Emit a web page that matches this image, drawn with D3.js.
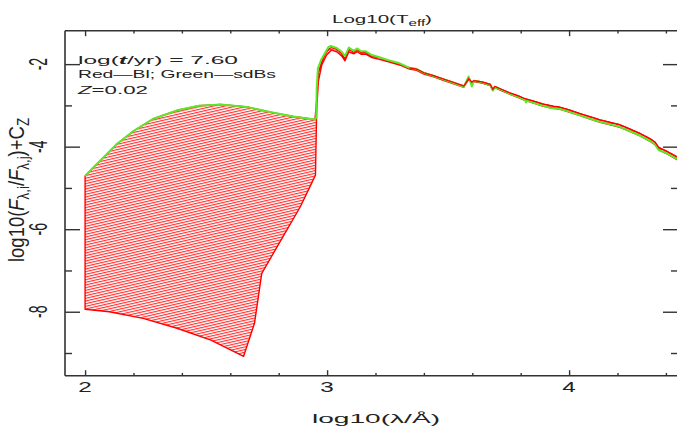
<!DOCTYPE html>
<html><head><meta charset="utf-8">
<script src="https://cdn.jsdelivr.net/npm/d3@7"></script>
<style>body{margin:0;background:#fff}svg{display:block}text{font-family:"Liberation Sans",Arial,sans-serif;fill:#222}</style>
</head><body><svg id="c" width="677" height="427"></svg>
<script>
// ---- data ----
const blMaxX = [2.00,2.04,2.08,2.13,2.20,2.28,2.38,2.47,2.56,2.67,2.78,2.86,2.95,2.958,2.964,2.978,2.995,3.01,3.02,3.04,3.06,3.074,3.09,3.11,3.125,3.14,3.16,3.185,3.22,3.25,3.30,3.34,3.37,3.40,3.44,3.48,3.52,3.565,3.585,3.598,3.607,3.64,3.674,3.685,3.693,3.72,3.756,3.79,3.818,3.85,3.894,3.935,3.96,4.00,4.045,4.09,4.128,4.17,4.21,4.25,4.293,4.335,4.355,4.37,4.40,4.45];
const blMaxY = [-4.71,-4.47,-4.24,-3.94,-3.62,-3.33,-3.12,-3.01,-2.98,-3.04,-3.18,-3.27,-3.34,-2.80,-2.20,-1.94,-1.72,-1.62,-1.60,-1.64,-1.74,-1.88,-1.64,-1.71,-1.65,-1.72,-1.72,-1.80,-1.85,-1.91,-1.99,-2.09,-2.12,-2.21,-2.28,-2.36,-2.44,-2.53,-2.35,-2.44,-2.40,-2.43,-2.49,-2.61,-2.54,-2.61,-2.70,-2.77,-2.84,-2.89,-2.97,-3.02,-3.04,-3.11,-3.20,-3.28,-3.35,-3.41,-3.47,-3.57,-3.68,-3.81,-3.89,-4.02,-4.10,-4.26];
const blMinX = [2.00,2.10,2.24,2.38,2.52,2.655,2.70,2.73,2.81,2.89,2.952,2.956,2.958,2.964,2.978,2.998,3.019,3.04,3.06,3.074,3.09,3.11,3.125,3.14,3.16,3.185,3.22,3.25,3.30,3.34,3.37,3.40,3.44,3.48,3.52,3.565,3.585,3.598,3.607,3.64,3.674,3.685,3.693,3.72,3.756,3.79,3.818,3.85,3.894,3.935,3.96,4.00,4.045,4.09,4.128,4.17,4.21,4.25,4.293,4.335,4.355,4.37,4.40,4.45];
const blMinY = [-7.94,-8.00,-8.16,-8.40,-8.69,-9.08,-8.28,-7.07,-6.26,-5.45,-4.69,-3.40,-2.99,-2.42,-2.02,-1.78,-1.66,-1.70,-1.80,-1.92,-1.70,-1.75,-1.70,-1.76,-1.76,-1.84,-1.89,-1.94,-2.02,-2.12,-2.15,-2.24,-2.31,-2.39,-2.47,-2.56,-2.37,-2.46,-2.42,-2.46,-2.52,-2.64,-2.57,-2.64,-2.73,-2.81,-2.88,-2.94,-3.02,-3.07,-3.09,-3.16,-3.25,-3.34,-3.41,-3.47,-3.53,-3.63,-3.74,-3.87,-3.95,-4.08,-4.16,-4.33];
const sdbsX = [2.00,2.04,2.08,2.13,2.20,2.28,2.38,2.47,2.56,2.67,2.78,2.86,2.95,2.955,2.957,2.962,2.975,2.99,3.005,3.015,3.04,3.06,3.074,3.09,3.11,3.125,3.14,3.16,3.185,3.22,3.25,3.30,3.34,3.37,3.40,3.44,3.48,3.52,3.565,3.585,3.598,3.607,3.64,3.674,3.685,3.693,3.72,3.756,3.79,3.818,3.822,3.826,3.85,3.894,3.92,3.935,3.96,4.00,4.045,4.09,4.128,4.17,4.21,4.25,4.293,4.335,4.355,4.37,4.40,4.45];
const sdbsY = [-4.71,-4.47,-4.24,-3.94,-3.62,-3.33,-3.12,-3.01,-2.98,-3.04,-3.18,-3.27,-3.34,-3.30,-2.60,-2.10,-1.90,-1.74,-1.59,-1.56,-1.61,-1.70,-1.80,-1.60,-1.68,-1.62,-1.69,-1.69,-1.78,-1.84,-1.90,-1.98,-2.09,-2.12,-2.21,-2.29,-2.37,-2.45,-2.55,-2.30,-2.54,-2.40,-2.44,-2.51,-2.64,-2.56,-2.62,-2.72,-2.80,-2.87,-2.93,-2.88,-2.93,-3.01,-3.06,-3.07,-3.08,-3.15,-3.24,-3.33,-3.40,-3.46,-3.52,-3.62,-3.73,-3.86,-3.94,-4.08,-4.15,-4.31];
const xMajorTicks = [2,3,4];
const xMinorTicks = [2.2,2.4,2.6,2.8,3.2,3.4,3.6,3.8,4.2,4.4];
const yMajorTicks = [-2,-4,-6,-8];
const yMinorTicks = [-3,-5,-7,-9];

// ---- layout ----
const svg = d3.select("#c");
const L=65, R=678, T=30.7, B=375.7;
const x = d3.scaleLinear().domain([1.917,4.45]).range([L,R]);
const y = d3.scaleLinear().domain([-9.55,-1.19]).range([B,T]);

// hatch pattern
const defs = svg.append("defs");
const pat = defs.append("pattern").attr("id","hatch").attr("patternUnits","userSpaceOnUse")
  .attr("width",12).attr("height",2.6).attr("patternTransform","rotate(-13)");
pat.append("line").attr("x1",0).attr("x2",12).attr("y1",0.6).attr("y2",0.6)
  .attr("stroke","#ff1a1a").attr("stroke-width",1.05);

// band polygon
const upperPts = blMaxX.map((v,i)=>[v,blMaxY[i]]);
const lowerPts = blMinX.map((v,i)=>[v,blMinY[i]]).reverse();
const poly = d3.line().x(d=>x(d[0])).y(d=>y(d[1]));
const clip = defs.append("clipPath").attr("id","clip");
clip.append("rect").attr("x",L).attr("y",T).attr("width",R-L).attr("height",B-T);
const g = svg.append("g").attr("clip-path","url(#clip)");
g.append("path").attr("d",poly(upperPts.concat(lowerPts))+"Z").attr("fill","url(#hatch)").attr("stroke","none");
g.append("path").attr("d",poly(upperPts.concat(lowerPts))+"Z").attr("fill","none")
  .attr("stroke","#ff0000").attr("stroke-width",1.4).attr("stroke-linejoin","round");
g.append("path").attr("d",poly(sdbsX.map((v,i)=>[v,sdbsY[i]]))).attr("fill","none")
  .attr("stroke","#5ee82a").attr("stroke-width",2).attr("stroke-linejoin","round");
g.append("path").attr("d",poly(upperPts.filter(d=>d[0]>3.3))).attr("fill","none")
  .attr("stroke","#ff0000").attr("stroke-width",1.2);

// frame
const axc="#333";
svg.append("line").attr("x1",L).attr("x2",L).attr("y1",T).attr("y2",B).attr("stroke",axc).attr("stroke-width",1.6);
svg.append("line").attr("x1",L).attr("x2",R).attr("y1",B).attr("y2",B).attr("stroke",axc).attr("stroke-width",1.6);
svg.append("line").attr("x1",L).attr("x2",R).attr("y1",T).attr("y2",T).attr("stroke",axc).attr("stroke-width",1.6);
svg.append("line").attr("x1",R).attr("x2",R).attr("y1",T).attr("y2",B).attr("stroke",axc).attr("stroke-width",1.6);

function ax(axisFn, scale, vals, size, tr){
  const a = svg.append("g").attr("transform",tr)
    .call(axisFn(scale).tickValues(vals).tickSize(size).tickSizeOuter(0).tickFormat(""));
  a.select(".domain").remove();
  a.selectAll(".tick line").attr("stroke",axc).attr("stroke-width",1.4);
}
ax(d3.axisBottom,x,xMajorTicks,-5.5,`translate(0,${B})`);
ax(d3.axisBottom,x,xMinorTicks,-2.8,`translate(0,${B})`);
ax(d3.axisTop,x,xMajorTicks,-5.5,`translate(0,${T})`);
ax(d3.axisTop,x,xMinorTicks,-2.8,`translate(0,${T})`);
ax(d3.axisLeft,y,yMajorTicks,-15,`translate(${L},0)`);
ax(d3.axisLeft,y,yMinorTicks,-7,`translate(${L},0)`);
ax(d3.axisRight,y,yMajorTicks,-15,`translate(${R},0)`);
ax(d3.axisRight,y,yMinorTicks,-7,`translate(${R},0)`);

// tick labels
xMajorTicks.forEach(v=>{
  svg.append("text").attr("x",x(v)).attr("y",392).attr("text-anchor","middle")
    .attr("font-size",14).attr("textLength",13.5).attr("lengthAdjust","spacingAndGlyphs").text(v);
});
yMajorTicks.forEach(v=>{
  svg.append("text").attr("transform",`translate(47,${y(v)}) scale(1.8,1) rotate(-90)`)
    .attr("text-anchor","middle").attr("font-size",14).text("-"+Math.abs(v));
});

// titles
const title = svg.append("text").attr("x",332).attr("y",23).attr("font-size",11.5)
  .attr("textLength",100).attr("lengthAdjust","spacingAndGlyphs");
title.append("tspan").text("Log10(T");
title.append("tspan").attr("font-size",8.5).attr("dy",2.5).text("eff");
title.append("tspan").attr("dy",-2.5).text(")");

svg.append("text").attr("x",312).attr("y",423).attr("font-size",13)
  .attr("textLength",128).attr("lengthAdjust","spacingAndGlyphs").text("log10(\u03bb/\u00c5)");

const yl = svg.append("text").attr("transform","translate(24,262) scale(1.8,1) rotate(-90)")
  .attr("font-size",12.5).attr("textLength",144).attr("lengthAdjust","spacingAndGlyphs");
yl.append("tspan").text("log10(");
yl.append("tspan").attr("font-style","italic").text("F");
yl.append("tspan").attr("font-size",9).attr("dy",3).text("\u03bb,i");
yl.append("tspan").attr("dy",-3).text("/");
yl.append("tspan").attr("font-style","italic").text("F");
yl.append("tspan").attr("font-size",9).attr("dy",3).text("\u03bb,j");
yl.append("tspan").attr("dy",-3).text(")+C");
yl.append("tspan").attr("font-size",9).attr("dy",3).text("Z");

// annotations
const a1 = svg.append("text").attr("x",78).attr("y",63.5).attr("font-size",11)
  .attr("textLength",160).attr("lengthAdjust","spacingAndGlyphs");
a1.append("tspan").text("log(");
a1.append("tspan").attr("font-style","italic").attr("font-weight","bold").text("t");
a1.append("tspan").text("/yr)  =  7.60");
svg.append("text").attr("x",78).attr("y",78).attr("font-size",11)
  .attr("textLength",198).attr("lengthAdjust","spacingAndGlyphs").text("Red\u2014Bl;  Green\u2014sdBs");
const a3 = svg.append("text").attr("x",78).attr("y",94).attr("font-size",11)
  .attr("textLength",70).attr("lengthAdjust","spacingAndGlyphs");
a3.append("tspan").attr("font-style","italic").text("Z");
a3.append("tspan").text("=0.02");
</script></body></html>
